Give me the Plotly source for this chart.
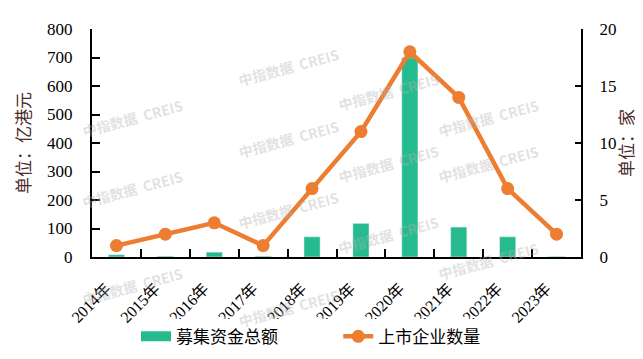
import plotly.graph_objects as go

years = ["2014年", "2015年", "2016年", "2017年", "2018年", "2019年", "2020年", "2021年", "2022年", "2023年"]
funds = [8, 3, 17, 3, 71, 118, 699, 105, 71, 2]          # 募集资金总额 (亿港元)
listings = [1, 2, 3, 1, 6, 11, 18, 14, 6, 2]             # 上市企业数量 (家)

green = "#26BB8F"
orange = "#ED7D31"
serif = "Liberation Serif, Noto Sans CJK SC, serif"

W, H = 643, 359
L, R, T, B = 84, 70, 19, 103
pw, ph = W - L - R, H - T - B

fig = go.Figure()
fig.add_trace(go.Bar(x=years, y=funds, marker_color=green, width=0.33,
                     name="募集资金总额", showlegend=False, yaxis="y"))
# legend proxy for the bar series (wide rectangle swatch)
fig.add_trace(go.Scatter(x=[None], y=[None], mode="lines", line=dict(color=green, width=12),
                         name="募集资金总额             ", yaxis="y"))
fig.add_trace(go.Scatter(x=years, y=listings, mode="lines+markers", name="上市企业数量",
                         line=dict(color=orange, width=4.5),
                         marker=dict(color=orange, size=13), yaxis="y2"))

# watermark (kept fully inside the picture)
wm = []
cols = [(70, 10), (226, 32), (380, 58), (535, 85)]
for cx, y0 in cols:
    for k in range(-1, 4):
        cy = y0 + k * 101
        if 25 < cy < H - 15:
            wm.append(dict(text="<b>中指数据  CREIS</b>", x=(cx - L) / pw, y=(H - B - cy) / ph,
                           xref="paper", yref="paper", showarrow=False, textangle=-15,
                           font=dict(family="Noto Sans CJK SC", size=14, color="rgba(180,180,180,0.4)")))

fig.update_layout(
    width=W, height=H,
    margin=dict(l=L, r=R, t=T, b=B),
    paper_bgcolor="white", plot_bgcolor="white",
    font=dict(family=serif, size=17, color="black"),
    bargap=0.5,
    xaxis=dict(type="category", showline=True, linecolor="black", linewidth=2,
               ticks="inside", tickson="boundaries", ticklen=8, tickwidth=2, tickcolor="black",
               tickangle=-45, tickfont=dict(family=serif, size=16), showgrid=False,
               ticklabelstandoff=14, ticklabelshift=-10, range=[-0.5, 9.5]),
    yaxis=dict(range=[0, 800], dtick=100, showline=True, linecolor="black", linewidth=2,
               ticks="inside", ticklen=8, tickwidth=2, tickcolor="black", showgrid=False,
               zeroline=False, tickfont=dict(family=serif, size=17), ticklabelstandoff=14,
               title=dict(text="单位：亿港元", font=dict(family=serif, size=17, color="#4a2a2a"), standoff=12)),
    yaxis2=dict(range=[0, 20], dtick=5, overlaying="y", side="right", showline=True,
                linecolor="black", linewidth=2, ticks="inside", ticklen=6, tickwidth=2,
                tickcolor="black", showgrid=False, zeroline=False, ticklabelstandoff=13,
                tickfont=dict(family=serif, size=17),
                title=dict(text="单位：家", font=dict(family=serif, size=17, color="#4a2a2a"), standoff=6)),
    legend=dict(orientation="h", x=(128 - L) / pw, xanchor="left", y=-0.35, yanchor="middle",
                font=dict(family=serif, size=17), tracegroupgap=0),
    annotations=wm,
)

fig.write_html("out.html")
